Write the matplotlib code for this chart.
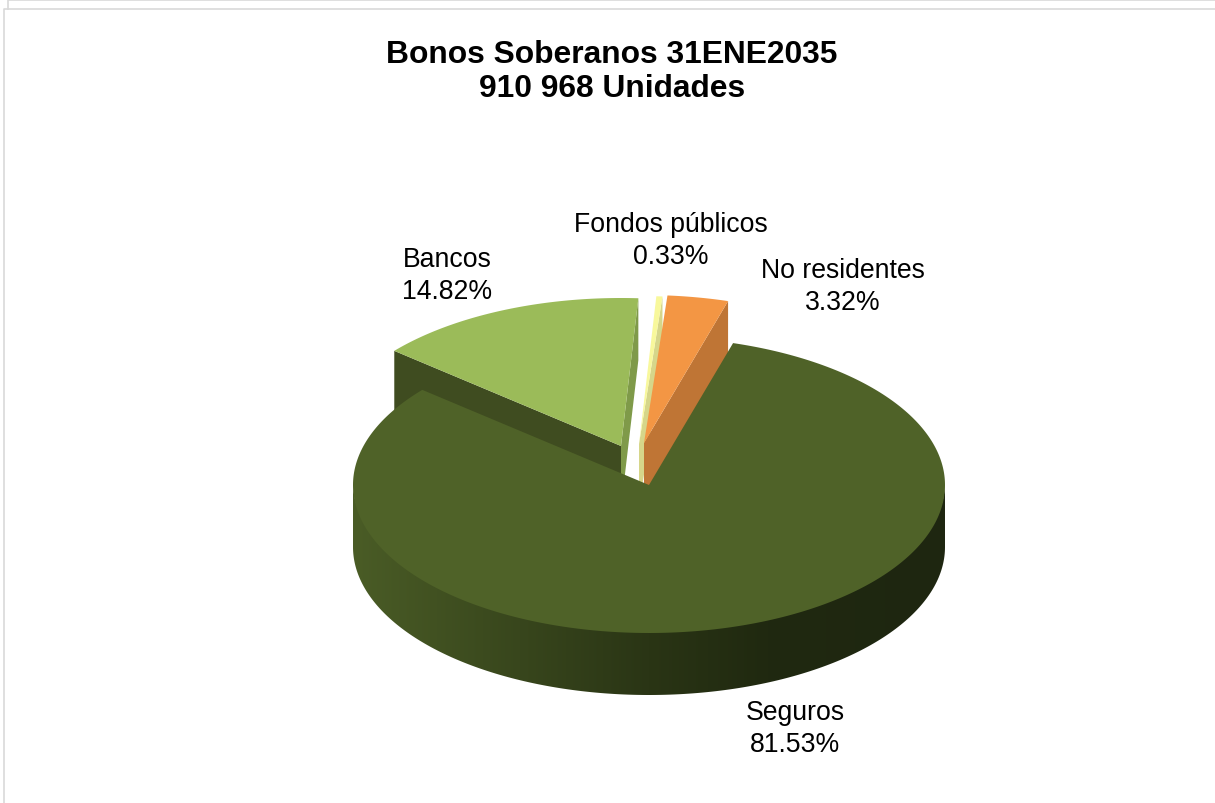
import matplotlib
matplotlib.use('Agg')
import matplotlib.pyplot as plt
import numpy as np
from matplotlib.colors import LinearSegmentedColormap
from matplotlib.patches import Polygon

plt.rcParams['font.family'] = ['Liberation Sans', 'DejaVu Sans']

title = 'Bonos Soberanos 31ENE2035\n910 968 Unidades'
labels = ['Seguros', 'Bancos', 'Fondos públicos', 'No residentes']
values = [81.53, 14.82, 0.33, 3.32]

top_colors = ['#4f6228', '#9bbb59', '#f8f89c', '#f39644']
wall_colors = ['#3f4f20', '#3f4c20', '#d6d68a', '#bf7535']
inner_colors = [None, '#7f9a49', None, None]
explode = [(0, 0), (-28, -39), (-10, -41), (-5, -42)]
label_pos = [(795, 729), (447, 276), (671, 241), (843, 287)]

CX, CY = 649, 486
RX, RY = 296, 148
DEPTH = 62
START = 16.5  # where Seguros starts, degrees clockwise from the back


def rim(theta, dx=0, dy=0):
    t = np.radians(theta)
    return np.column_stack([CX + dx + RX * np.sin(t), CY + dy - RY * np.cos(t)])


def cut_wall(theta, dx, dy):
    # flat face of a slice, from the apex out to the rim and down
    p = rim(theta, dx, dy)[0]
    a = (CX + dx, CY + dy)
    return [a, tuple(p), (p[0], p[1] + DEPTH), (a[0], a[1] + DEPTH)]


fig = plt.figure(figsize=(12.15, 8.04), dpi=100)
ax = fig.add_axes([0, 0, 1, 1])

# slice limits, going clockwise from the start angle
spans = np.array(values) / sum(values) * 360
ends = START + np.cumsum(spans)
starts = ends - spans

# Seguros front wall with its left to right shading
# upper edge sits a little under the top face so no pale seam shows
seg = np.linspace(90, 270, 200)
upper = rim(seg)
lower = upper + [0, DEPTH]
wall = Polygon(np.vstack([upper - [0, 3], lower[::-1]]), closed=True, transform=ax.transData,
               fc='none', ec='none')
ax.add_patch(wall)
cmap = LinearSegmentedColormap.from_list('wall', [(0, '#1e2610'), (0.3, '#202910'),
                                                  (0.5, '#2a3515'), (1, '#4a5c26')])
grad = ax.imshow(np.linspace(0, 1, 256)[::-1].reshape(1, -1), cmap=cmap, aspect='auto',
                 extent=(CX - RX, CX + RX, CY + RY + DEPTH, CY - 5))
grad.set_clip_path(wall)

# exploded slices, back to front
for i in [1, 2, 3]:
    dx, dy = explode[i]
    a0, a1 = starts[i], ends[i]
    if i == 1:
        ax.add_patch(Polygon(cut_wall(a0, dx, dy), fc=wall_colors[i], ec='none'))
        ax.add_patch(Polygon(cut_wall(a1, dx, dy), fc=inner_colors[i], ec='none'))
    else:
        ax.add_patch(Polygon(cut_wall(a1, dx, dy), fc=wall_colors[i], ec='none'))
    arc = rim(np.linspace(a0, a1, 60), dx, dy)
    ax.add_patch(Polygon(np.vstack([[CX + dx, CY + dy], arc]), fc=top_colors[i], ec='none'))

# Seguros top face goes over everything behind it
arc = rim(np.linspace(starts[0], ends[0], 400))
ax.add_patch(Polygon(np.vstack([[CX, CY], arc]), fc=top_colors[0], ec='none'))

# panel border
ax.plot([4, 4, 1215], [804, 10, 10], color='#d9d9d9', lw=1.2)
ax.plot([8, 8, 1215], [10, 1, 1], color='#d9d9d9', lw=1.2)

for name, val, (x, y) in zip(labels, values, label_pos):
    ax.text(x, y, f'{name}\n{val:.2f}%', ha='center', va='center', fontsize=19.2,
            color='black', linespacing=1.28)

ax.text(612, 72, title, ha='center', va='center', fontsize=22.9, fontweight='bold',
        color='black', linespacing=1.18)

ax.set_xlim(0, 1215)
ax.set_ylim(804, 0)
ax.axis('off')

fig.savefig('out.png', dpi=100)
